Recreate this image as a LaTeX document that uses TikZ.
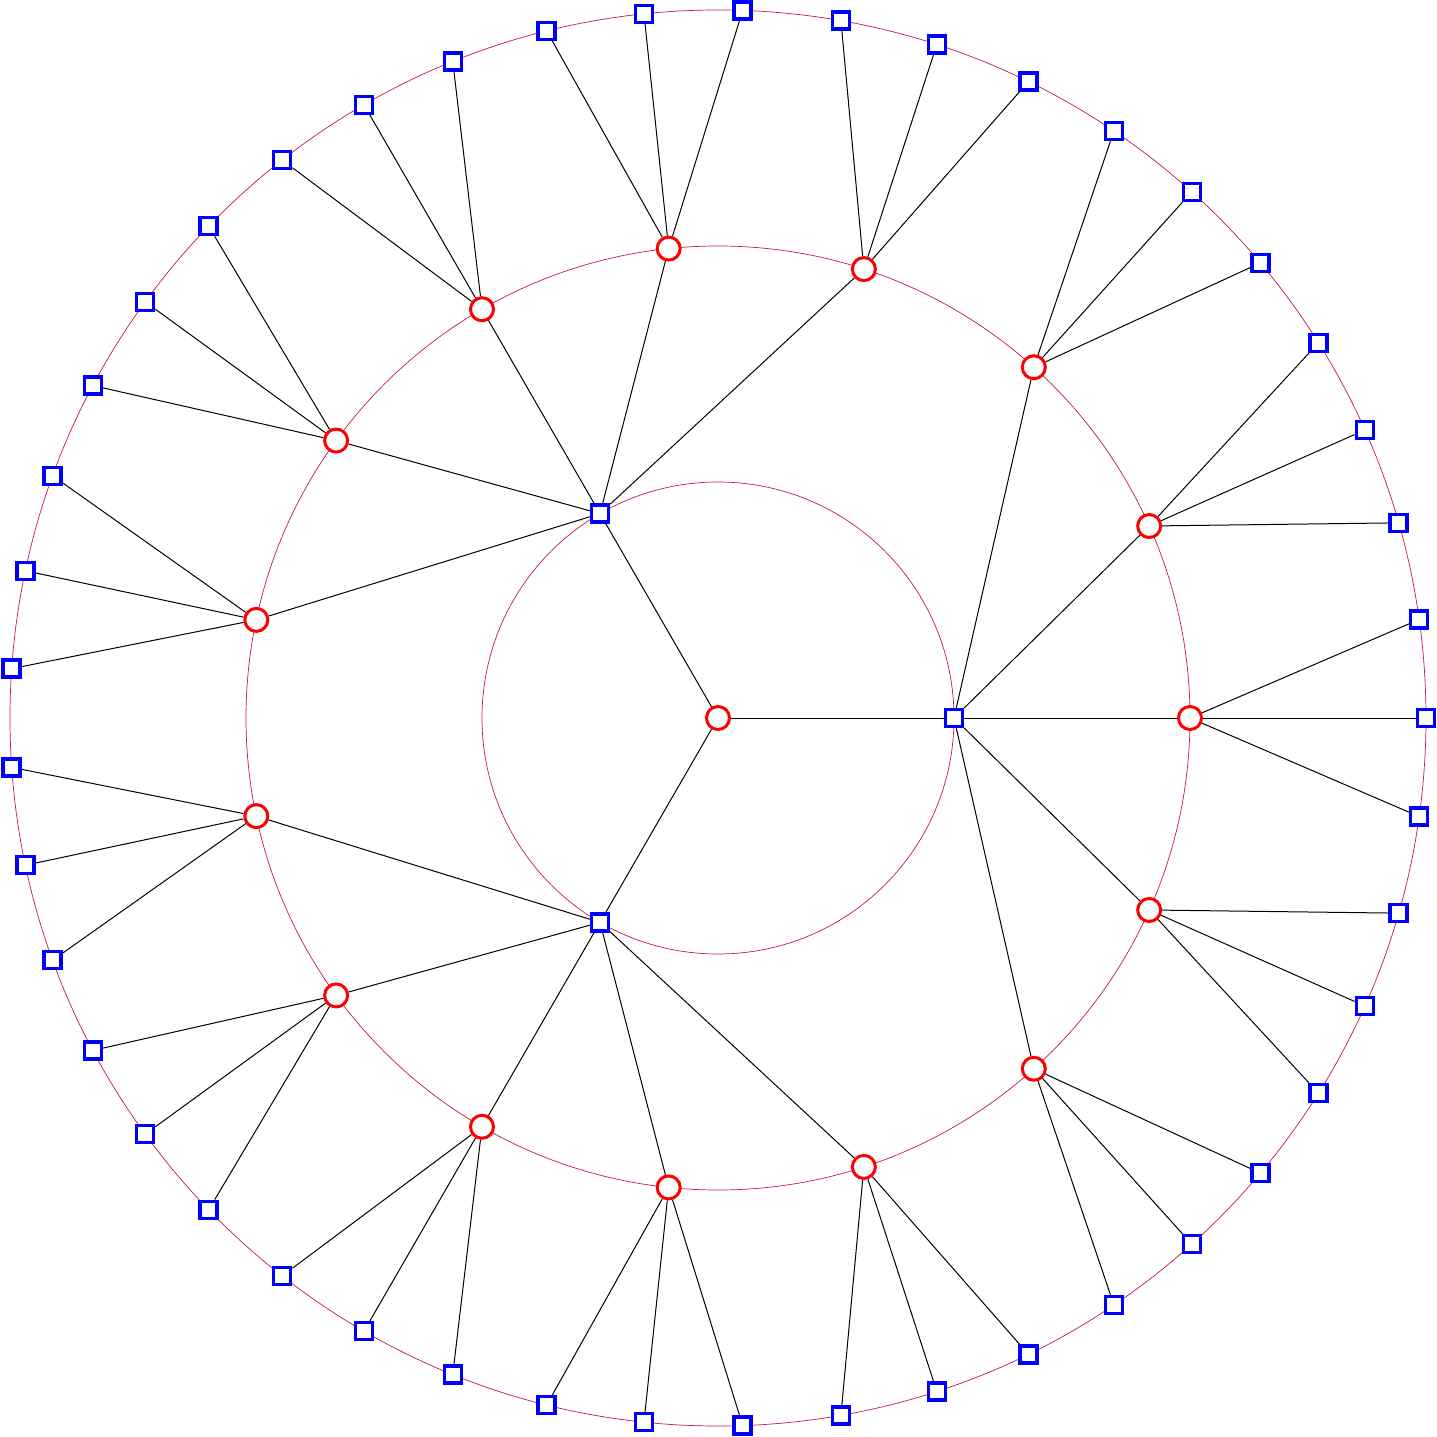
\documentclass[tikz,border=0pt]{standalone}
\definecolor{ringcol}{RGB}{200,20,90}
\begin{document}
\begin{tikzpicture}[x=1pt,y=1pt,
  rednode/.style={circle,draw=red,line width=3pt,fill=white,minimum size=23pt,inner sep=0pt},
  bluenode/.style={rectangle,draw=blue,line width=3.5pt,fill=white,minimum size=17pt,inner sep=0pt},
  ring/.style={draw=ringcol,line width=0.7pt},
  edgeline/.style={draw=black,line width=1pt}]
\useasboundingbox (-718,-719) rectangle (719,718);
% rings
\draw[ring] (0,0) circle (236);
\draw[ring] (0,0) circle (472);
\draw[ring] (0,0) circle (708);
% nodes
\node[rednode] (c) at (0,0) {};
\foreach \i in {0,1,2} \node[bluenode] (b\i) at (120*\i:236) {};
\foreach \j in {0,...,14} \node[rednode] (r\j) at (24*\j:472) {};
\foreach \k in {0,...,44} \node[bluenode] (o\k) at (8*\k:708) {};
% edges
\foreach \i in {0,1,2} {
  \draw[edgeline] (c) -- (b\i);
  \foreach \m in {-2,...,2} {
    \pgfmathtruncatemacro\jj{mod(5*\i+\m+15,15)}
    \draw[edgeline] (b\i) -- (r\jj);
  }
}
\foreach \j in {0,...,14} {
  \foreach \m in {-1,0,1} {
    \pgfmathtruncatemacro\kk{mod(3*\j+\m+45,45)}
    \draw[edgeline] (r\j) -- (o\kk);
  }
}
\end{tikzpicture}
\end{document}
